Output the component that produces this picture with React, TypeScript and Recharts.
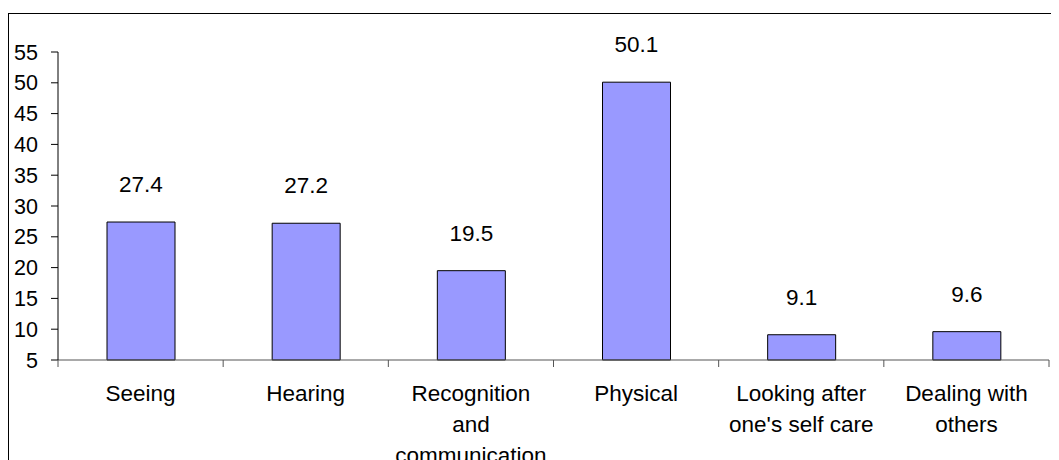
import React from "react";
import { BarChart, Bar, XAxis, YAxis, LabelList } from "recharts";

const categories = [
  "Seeing",
  "Hearing",
  "Recognition and communication",
  "Physical",
  "Looking after one's self care",
  "Dealing with others",
];
const values = [27.4, 27.2, 19.5, 50.1, 9.1, 9.6];
const yTicks = [5, 10, 15, 20, 25, 30, 35, 40, 45, 50, 55];

const data = categories.map((name, i) => ({ name, value: values[i] }));

const FONT = "'Liberation Sans', Arial, sans-serif";
const TICK_MARGIN = 25;
const CAT_FONT = 22.5;
const WRAP_WIDTH = 152;

let ctx: CanvasRenderingContext2D | null = null;
function measure(s: string): number {
  if (!ctx) {
    const c = document.createElement("canvas");
    ctx = c.getContext("2d");
  }
  if (!ctx) return s.length * CAT_FONT * 0.55;
  ctx.font = `${CAT_FONT}px ${FONT}`;
  return ctx.measureText(s).width;
}

function wrap(text: string): string[] {
  const words = text.split(" ");
  const lines: string[] = [];
  let cur = "";
  for (const w of words) {
    const cand = cur ? cur + " " + w : w;
    if (cur && measure(cand) > WRAP_WIDTH) {
      lines.push(cur);
      cur = w;
    } else {
      cur = cand;
    }
  }
  if (cur) lines.push(cur);
  return lines;
}

const CatTick = (props: any) => {
  const { x, y, payload, index } = props;
  const half = payload && typeof payload.offset === "number" && payload.offset > 0 ? payload.offset : 82.6;
  const axisY = y - TICK_MARGIN;
  const last = index === categories.length - 1;
  const lines = wrap(String(payload.value));
  return (
    <g>
      <line x1={x - half} x2={x - half} y1={axisY} y2={axisY + 7} stroke="#555" strokeWidth={1} />
      {last && <line x1={x + half} x2={x + half} y1={axisY} y2={axisY + 7} stroke="#555" strokeWidth={1} />}
      <text
        x={x}
        y={y}
        textAnchor="middle"
        fontSize={CAT_FONT}
        fontFamily={FONT}
        fill="#000"
      >
        {lines.map((l, i) => (
          <tspan key={i} x={x} dy={i === 0 ? 16 : 31}>
            {l}
          </tspan>
        ))}
      </text>
    </g>
  );
};

export default function App() {
  return (
    <>
      <style>{`body{overflow:hidden;}`}</style>
      <div
        style={{
          marginTop: 5,
          borderTop: "1px solid #000",
          borderLeft: "1px solid #000",
          width: 1051,
          height: 447,
          boxSizing: "border-box",
        }}
      >
        <BarChart
          width={1050}
          height={446}
          data={data}
          margin={{ top: 38, right: 10, left: 0, bottom: 0 }}
        >
          <XAxis
            dataKey="name"
            height={100}
            interval={0}
            axisLine={{ stroke: "#555" }}
            tickLine={false}
            tickSize={0}
            tickMargin={TICK_MARGIN}
            tick={<CatTick />}
          />
          <YAxis
            width={49}
            domain={[5, 55]}
            ticks={yTicks}
            interval={0}
            tickSize={7}
            tickMargin={13}
            axisLine={{ stroke: "#000" }}
            tickLine={{ stroke: "#000" }}
            tick={{ fill: "#000", fontSize: 21.5, fontFamily: FONT }}
          />
          <Bar
            dataKey="value"
            fill="#9999FF"
            stroke="#000"
            strokeWidth={1}
            barSize={68}
            isAnimationActive={false}
          >
            <LabelList
              dataKey="value"
              position="top"
              offset={30}
              fill="#000"
              fontSize={22.5}
              fontFamily={FONT}
            />
          </Bar>
        </BarChart>
      </div>
    </>
  );
}
